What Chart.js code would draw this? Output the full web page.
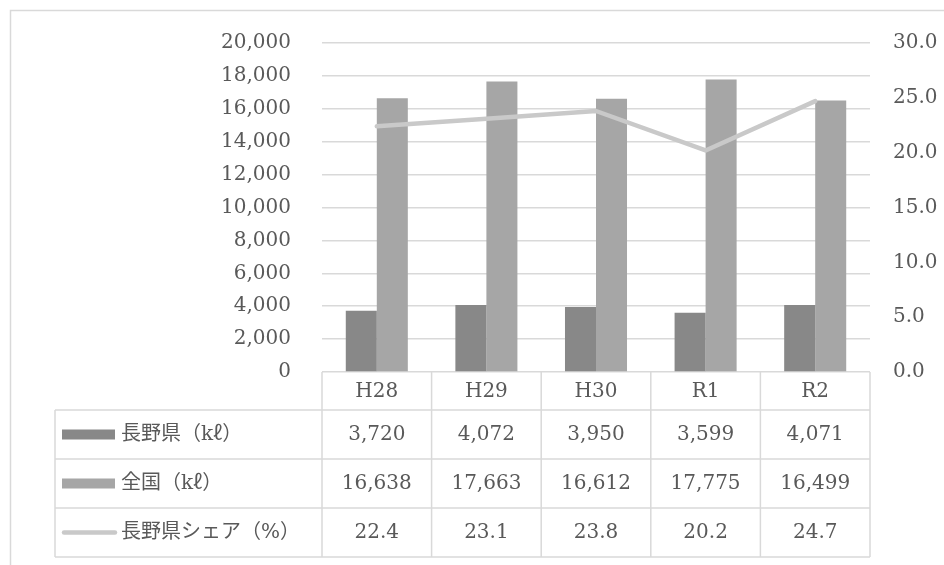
<!DOCTYPE html>
<html lang="ja">
<head>
<meta charset="utf-8">
<title>長野県シェア</title>
<script src="https://cdn.jsdelivr.net/npm/chart.js@4/dist/chart.umd.min.js"></script>
<style>
  html, body { margin: 0; padding: 0; background: #ffffff; }
  canvas { display: block; }
</style>
</head>
<body>
<canvas id="chart" width="944" height="565"></canvas>
<script>
// Fiscal years and series
const categories = ['H28', 'H29', 'H30', 'R1', 'R2'];
const naganoVolume = [3720, 4072, 3950, 3599, 4071];        // kℓ
const nationalVolume = [16638, 17663, 16612, 17775, 16499]; // kℓ
const naganoShare = [22.4, 23.1, 23.8, 20.2, 24.7];         // %
const seriesLabels = ['長野県（kℓ）', '全国（kℓ）', '長野県シェア（%）'];

const TEXT = '#595959';
const RULE = '#d9d9d9';
const DARK = '#888888';
const LIGHT = '#a6a6a6';
const LINE = '#c9c9c9';
const FONT_FAMILY = '"DejaVu Serif", "Noto Sans CJK JP", serif';
const FONT_SIZE = 20;

const fmtVolume = v => v.toLocaleString('en-US');
const fmtShare = v => v.toFixed(1);

// Outer frame and the data table under the plot
const dataTable = {
  id: 'dataTable',
  beforeDraw(chart) {
    const c = chart.ctx;
    c.save();
    c.strokeStyle = RULE;
    c.lineWidth = 1.5;
    c.beginPath();
    c.moveTo(10.5, chart.height + 5);
    c.lineTo(10.5, 10.5);
    c.lineTo(chart.width + 5, 10.5);
    c.stroke();
    c.restore();
  },
  afterDraw(chart) {
    const c = chart.ctx;
    const { left, right, bottom } = chart.chartArea;
    const x = chart.scales.x;
    const n = categories.length;
    const colW = (right - left) / n;
    const tableLeft = 55;
    const headerH = 38, rowH = 49;
    const rows = [bottom, bottom + headerH];
    for (let i = 0; i < 3; i++) rows.push(rows[rows.length - 1] + rowH);
    const tableBottom = rows[rows.length - 1];

    c.save();
    c.strokeStyle = RULE;
    c.lineWidth = 1.5;
    c.beginPath();
    for (let r = 1; r < rows.length; r++) {
      c.moveTo(tableLeft, rows[r]);
      c.lineTo(right, rows[r]);
    }
    for (let i = 0; i <= n; i++) {
      const bx = left + i * colW;
      c.moveTo(bx, bottom);
      c.lineTo(bx, tableBottom);
    }
    c.moveTo(tableLeft, rows[1]);
    c.lineTo(tableLeft, tableBottom);
    c.stroke();

    c.fillStyle = TEXT;
    c.font = FONT_SIZE + 'px ' + FONT_FAMILY;
    c.textBaseline = 'middle';
    c.textAlign = 'center';

    const hy = (rows[0] + rows[1]) / 2;
    categories.forEach((cat, i) => c.fillText(cat, x.getPixelForValue(i), hy + 1));

    const rowValues = [
      naganoVolume.map(fmtVolume),
      nationalVolume.map(fmtVolume),
      naganoShare.map(fmtShare)
    ];
    rowValues.forEach((vals, r) => {
      const cy = (rows[r + 1] + rows[r + 2]) / 2;
      vals.forEach((v, i) => c.fillText(v, x.getPixelForValue(i), cy));
    });

    // Row headers with legend keys
    const keyX = 62, keyW = 53, textX = 121;
    rowValues.forEach((_, r) => {
      const cy = (rows[r + 1] + rows[r + 2]) / 2;
      if (r < 2) {
        c.fillStyle = r === 0 ? DARK : LIGHT;
        c.fillRect(keyX, cy - 5, keyW, 10);
      } else {
        c.strokeStyle = LINE;
        c.lineWidth = 4.5;
        c.lineCap = 'round';
        c.beginPath();
        c.moveTo(keyX + 2, cy);
        c.lineTo(keyX + keyW, cy);
        c.stroke();
      }
      c.fillStyle = TEXT;
      c.textAlign = 'left';
      c.fillText(seriesLabels[r], textX, cy);
    });
    c.restore();
  }
};

new Chart(document.getElementById('chart'), {
  type: 'bar',
  data: {
    labels: categories,
    datasets: [
      {
        type: 'line',
        label: seriesLabels[2],
        data: naganoShare,
        yAxisID: 'y1',
        borderColor: LINE,
        borderWidth: 4.5,
        borderCapStyle: 'round',
        borderJoinStyle: 'round',
        pointRadius: 0,
        tension: 0,
        order: 0
      },
      {
        label: seriesLabels[0],
        data: naganoVolume,
        yAxisID: 'y',
        backgroundColor: DARK,
        categoryPercentage: 0.566,
        barPercentage: 1,
        order: 1
      },
      {
        label: seriesLabels[1],
        data: nationalVolume,
        yAxisID: 'y',
        backgroundColor: LIGHT,
        categoryPercentage: 0.566,
        barPercentage: 1,
        order: 1
      }
    ]
  },
  options: {
    responsive: false,
    animation: false,
    devicePixelRatio: 1,
    layout: { padding: { left: 0, right: 0, top: 39, bottom: 193 } },
    plugins: { legend: { display: false }, tooltip: { enabled: false } },
    scales: {
      x: { display: false, offset: true },
      y: {
        position: 'left',
        min: 0,
        max: 20000,
        afterFit(scale) { scale.width = 322; },
        border: { display: false },
        grid: { color: RULE, lineWidth: 1.5, drawTicks: false },
        ticks: {
          stepSize: 2000,
          padding: 31,
          color: TEXT,
          font: { family: FONT_FAMILY, size: FONT_SIZE },
          callback: v => fmtVolume(v)
        }
      },
      y1: {
        position: 'right',
        min: 0,
        max: 30,
        afterFit(scale) { scale.width = 74; },
        border: { display: false },
        grid: { drawOnChartArea: false, drawTicks: false },
        ticks: {
          stepSize: 5,
          padding: 23,
          color: TEXT,
          font: { family: FONT_FAMILY, size: FONT_SIZE },
          callback: v => fmtShare(v)
        }
      }
    }
  },
  plugins: [dataTable]
});
</script>
</body>
</html>
